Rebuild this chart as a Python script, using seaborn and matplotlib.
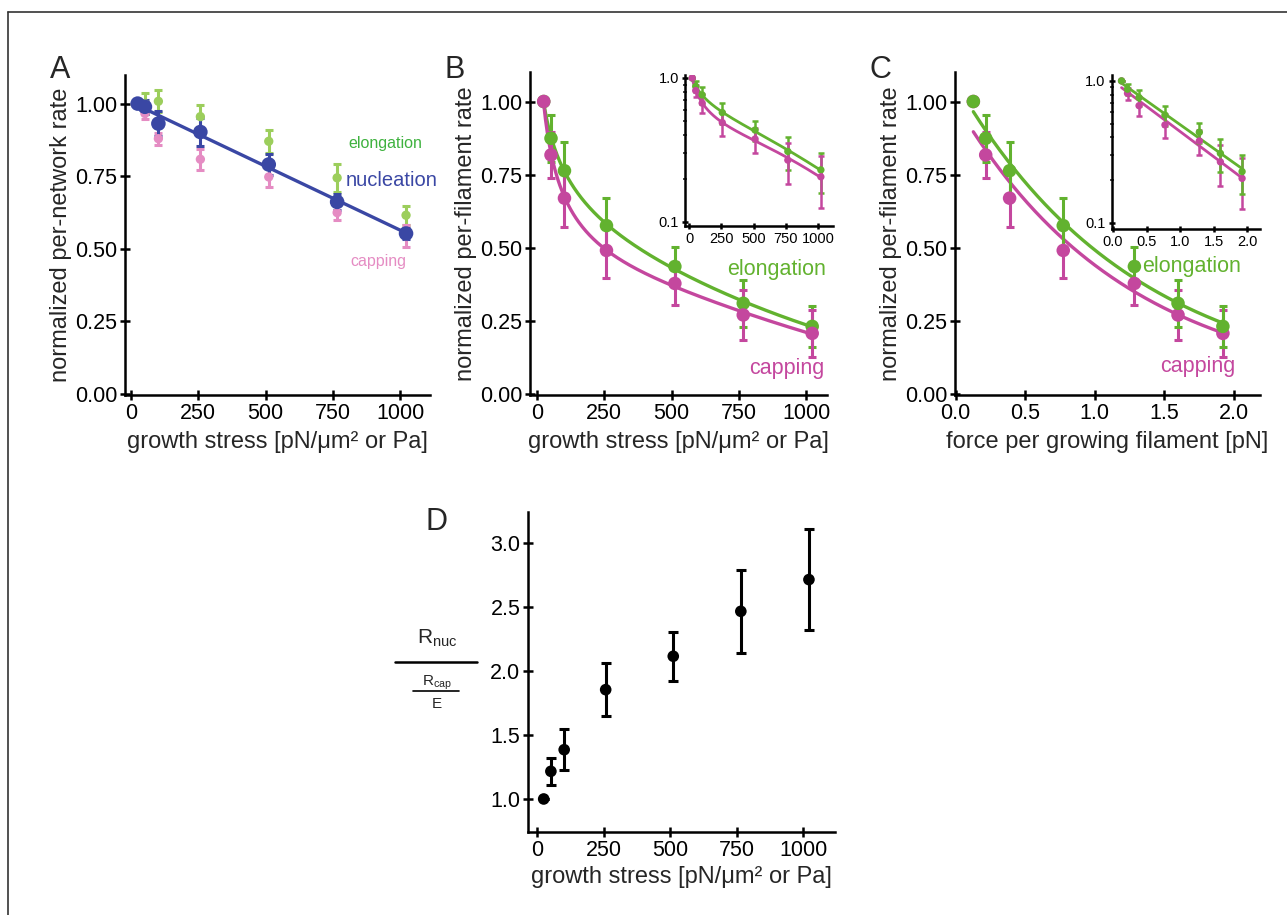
import numpy as np
import matplotlib
matplotlib.use("Agg")
import matplotlib.pyplot as plt
import seaborn as sns
import pandas as pd

# data
stress = [25, 52, 102, 258, 512, 766, 1022]
force = [0.127, 0.216, 0.388, 0.774, 1.286, 1.60, 1.923]

nuc_A = [1.00, 0.989, 0.931, 0.902, 0.79, 0.661, 0.552]
nuc_A_err = [0, 0.025, 0.043, 0.047, 0.037, 0.028, 0.02]
elong_A = [1.00, 1.00, 1.008, 0.955, 0.87, 0.744, 0.615]
elong_A_err = [0, 0.035, 0.038, 0.04, 0.04, 0.048, 0.033]
cap_A = [1.00, 0.966, 0.879, 0.808, 0.747, 0.624, 0.543]
cap_A_err = [0, 0.018, 0.021, 0.037, 0.035, 0.026, 0.037]

elong = [1.00, 0.874, 0.763, 0.575, 0.435, 0.309, 0.23]
elong_err = [0, 0.08, 0.10, 0.095, 0.068, 0.08, 0.07]
cap = [1.00, 0.817, 0.669, 0.49, 0.377, 0.269, 0.206]
cap_err = [0, 0.08, 0.10, 0.095, 0.074, 0.086, 0.08]

ratio = [1.00, 1.216, 1.385, 1.854, 2.115, 2.466, 2.714]
ratio_err = [0, 0.106, 0.159, 0.205, 0.193, 0.322, 0.397]

BLUE = "#3a47a4"
GREEN_L = "#9cce5c"
PINK_L = "#e58cc3"
GREEN = "#62b22f"
MAGENTA = "#c4479e"
GREEN_TXT = "#3fb23f"

sns.set_style("ticks")
plt.rcParams["font.family"] = ["Liberation Sans", "DejaVu Sans"]
plt.rcParams["mathtext.fontset"] = "custom"
plt.rcParams["mathtext.rm"] = "Liberation Sans"
plt.rcParams["axes.linewidth"] = 1.8
plt.rcParams["axes.edgecolor"] = "black"

W, H = 1287, 915
fig = plt.figure(figsize=(W / 100, H / 100), dpi=100)


def rect(l, r, t, b):
    return [l / W, (H - b) / H, (r - l) / W, (b - t) / H]


def style(ax, size=15.5, length=7):
    sns.despine(ax=ax)
    ax.tick_params(direction="inout", length=length, width=1.8, labelsize=size,
                   colors="black", pad=2)
    ax.tick_params(which="minor", direction="inout", length=3, width=1.2)


def points(ax, x, y, err, color, ms, cap=3, lw=2.2):
    ax.errorbar(x, y, yerr=err, fmt="none", ecolor=color, elinewidth=lw,
                capsize=cap, capthick=lw, zorder=2)
    sns.scatterplot(x=x, y=y, ax=ax, color=color, s=ms, edgecolor="none",
                    zorder=3, legend=False)


def fit_stress(x, y):
    # smooth fit of log(rate) against sqrt(stress)
    c = np.polyfit(np.sqrt(x), np.log(y), 3)
    xs = np.linspace(min(x), max(x), 300)
    return xs, np.exp(np.polyval(c, np.sqrt(xs)))


def fit_force(x, y):
    c = np.polyfit(x, np.log(y), 1)
    xs = np.linspace(min(x), max(x), 300)
    return xs, np.exp(np.polyval(c, xs))


xlab = "growth stress [pN/\u03bcm\u00b2 or Pa]"

# ---------------- A
axA = fig.add_axes(rect(125, 430, 74.6, 395))
points(axA, stress, elong_A, elong_A_err, GREEN_L, 45)
points(axA, stress, cap_A, cap_A_err, PINK_L, 45)
k = np.polyfit(stress, nuc_A, 1)
lineA = pd.DataFrame({"x": [stress[0], stress[-1]]})
lineA["y"] = np.polyval(k, lineA["x"])
sns.lineplot(data=lineA, x="x", y="y", ax=axA, color=BLUE, lw=2.4, zorder=4)
points(axA, stress, nuc_A, nuc_A_err, BLUE, 110)
axA.set_xlim(-22, 1111)
axA.set_ylim(-0.005, 1.10)
axA.set_xticks([0, 250, 500, 750, 1000])
axA.set_yticks([0, 0.25, 0.5, 0.75, 1.0])
axA.set_yticklabels(["0.00", "0.25", "0.50", "0.75", "1.00"])
axA.set_xlabel(xlab, fontsize=17, labelpad=5)
axA.set_ylabel("normalized per-network rate", fontsize=17, labelpad=2)
axA.text(944, 0.862, "elongation", color=GREEN_TXT, fontsize=11.5, ha="center", va="center")
axA.text(970, 0.734, "nucleation", color=BLUE, fontsize=14.5, ha="center", va="center")
axA.text(918, 0.455, "capping", color=PINK_L, fontsize=11.5, ha="center", va="center")
style(axA)

# ---------------- B
axB = fig.add_axes(rect(530, 827, 72.3, 395))
for y, e, c in [(elong, elong_err, GREEN), (cap, cap_err, MAGENTA)]:
    xs, ys = fit_stress(stress, y)
    sns.lineplot(x=xs, y=ys, ax=axB, color=c, lw=2.4, zorder=2)
    points(axB, stress, y, e, c, 95)
axB.set_xlim(-26, 1077)
axB.set_ylim(-0.005, 1.10)
axB.set_xticks([0, 250, 500, 750, 1000])
axB.set_yticks([0, 0.25, 0.5, 0.75, 1.0])
axB.set_yticklabels(["0.00", "0.25", "0.50", "0.75", "1.00"])
axB.set_xlabel(xlab, fontsize=17, labelpad=5)
axB.set_ylabel("normalized per-filament rate", fontsize=17, labelpad=2)
axB.text(888, 0.425, "elongation", color=GREEN, fontsize=15.5, ha="center", va="center")
axB.text(929, 0.086, "capping", color=MAGENTA, fontsize=15.5, ha="center", va="center")
style(axB)

# inset B
axBi = fig.add_axes(rect(685, 833, 75, 226))
for y, e, c in [(elong, elong_err, GREEN), (cap, cap_err, MAGENTA)]:
    xs, ys = fit_stress(stress, y)
    sns.lineplot(x=xs, y=ys, ax=axBi, color=c, lw=2.0, zorder=2)
    points(axBi, stress, y, e, c, 28, cap=2, lw=1.8)
axBi.set_yscale("log")
axBi.set_xlim(-31, 1116)
axBi.set_ylim(0.0938, 1.049)
axBi.set_xticks([0, 250, 500, 750, 1000])
axBi.set_yticks([0.1, 1.0])
axBi.set_yticklabels(["0.1", "1.0"])
axBi.set_xlabel("")
axBi.set_ylabel("")
style(axBi, size=10.5, length=5)

# ---------------- C
axC = fig.add_axes(rect(955, 1260, 72.3, 395))
for y, e, c in [(elong, elong_err, GREEN), (cap, cap_err, MAGENTA)]:
    xs, ys = fit_force(force, y)
    sns.lineplot(x=xs, y=ys, ax=axC, color=c, lw=2.4, zorder=2)
for y, e, c in [(cap, cap_err, MAGENTA), (elong, elong_err, GREEN)]:
    points(axC, force, y, e, c, 95)
axC.set_xlim(-0.005, 2.19)
axC.set_ylim(-0.005, 1.10)
axC.set_xticks([0, 0.5, 1.0, 1.5, 2.0])
axC.set_xticklabels(["0.0", "0.5", "1.0", "1.5", "2.0"])
axC.set_yticks([0, 0.25, 0.5, 0.75, 1.0])
axC.set_yticklabels(["0.00", "0.25", "0.50", "0.75", "1.00"])
axC.set_xlabel("force per growing filament [pN]", fontsize=17, labelpad=5)
axC.set_ylabel("normalized per-filament rate", fontsize=17, labelpad=2)
axC.text(1.70, 0.435, "elongation", color=GREEN, fontsize=15.5, ha="center", va="center")
axC.text(1.74, 0.092, "capping", color=MAGENTA, fontsize=15.5, ha="center", va="center")
style(axC)

# inset C
axCi = fig.add_axes(rect(1112, 1260, 75, 229))
for y, e, c in [(elong, elong_err, GREEN), (cap, cap_err, MAGENTA)]:
    xs, ys = fit_force(force, y)
    sns.lineplot(x=xs, y=ys, ax=axCi, color=c, lw=2.0, zorder=2)
for y, e, c in [(cap, cap_err, MAGENTA), (elong, elong_err, GREEN)]:
    points(axCi, force, y, e, c, 28, cap=2, lw=1.8)
axCi.set_yscale("log")
axCi.set_xlim(-0.015, 2.19)
axCi.set_ylim(0.0907, 1.10)
axCi.set_xticks([0, 0.5, 1.0, 1.5, 2.0])
axCi.set_xticklabels(["0.0", "0.5", "1.0", "1.5", "2.0"])
axCi.set_yticks([0.1, 1.0])
axCi.set_yticklabels(["0.1", "1.0"])
axCi.set_xlabel("")
axCi.set_ylabel("")
style(axCi, size=10.5, length=5)

# ---------------- D
axD = fig.add_axes(rect(528, 835, 512, 832))
points(axD, stress, ratio, ratio_err, "black", 70, cap=3.5, lw=2.2)
axD.set_xlim(-34, 1120)
axD.set_ylim(0.742, 3.242)
axD.set_xticks([0, 250, 500, 750, 1000])
axD.set_yticks([1.0, 1.5, 2.0, 2.5, 3.0])
axD.set_yticklabels(["1.0", "1.5", "2.0", "2.5", "3.0"])
axD.set_xlabel(xlab, fontsize=17, labelpad=4)
axD.set_ylabel("")
style(axD)

# stacked fraction label for D
fig.text(437 / W, 1 - 638 / H, r"$\mathrm{R_{nuc}}$", fontsize=15, ha="center", va="center")
fig.add_artist(plt.Line2D([395 / W, 477 / W], [1 - 662 / H] * 2, color="black", lw=1.8))
fig.text(437 / W, 1 - 683 / H, r"$\mathrm{R_{cap}}$", fontsize=11, ha="center", va="center")
fig.add_artist(plt.Line2D([413 / W, 459 / W], [1 - 691 / H] * 2, color="black", lw=1.2))
fig.text(437 / W, 1 - 704 / H, "E", fontsize=11, ha="center", va="center")

# panel letters
for lab, px, py in [("A", 60, 70), ("B", 455, 70), ("C", 880, 70), ("D", 437, 522)]:
    fig.text(px / W, 1 - py / H, lab, fontsize=22, ha="center", va="center")

# frame
fig.add_artist(plt.Line2D([8 / W, 8 / W], [0, 1 - 12 / H], color="#333333", lw=1.2))
fig.add_artist(plt.Line2D([8 / W, 1], [1 - 12 / H] * 2, color="#333333", lw=1.2))

fig.savefig("out.png", dpi=100)
